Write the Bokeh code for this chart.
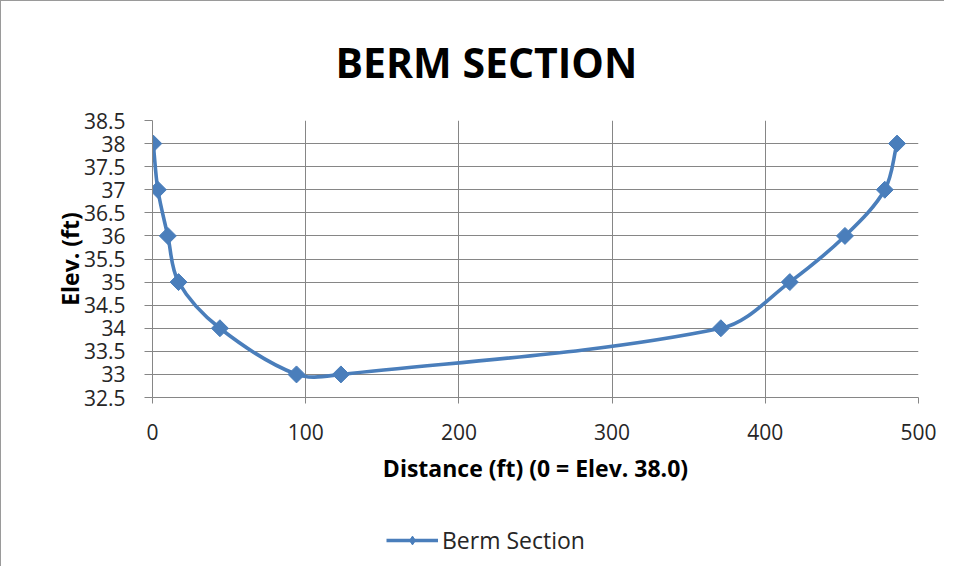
import numpy as np
from bokeh.plotting import figure
from bokeh.layouts import column
from bokeh.models import FixedTicker, Legend, LegendItem, Range1d
from bokeh.embed import file_html
from bokeh.resources import INLINE

# ---- data ----
distance_ft = [0.5, 3.5, 10, 17, 44, 94, 123, 371, 416, 452, 478, 486]
elev_ft = [38, 37, 36, 35, 34, 33, 33, 34, 35, 36, 37, 38]
series_name = "Berm Section"
title_text = "BERM SECTION"
x_label = "Distance (ft) (0 = Elev. 38.0)"
y_label = "Elev. (ft)"
x_ticks = [0, 100, 200, 300, 400, 500]
y_ticks = [32.5, 33, 33.5, 34, 34.5, 35, 35.5, 36, 36.5, 37, 37.5, 38, 38.5]
y_tick_labels = ["32.5", "33", "33.5", "34", "34.5", "35", "35.5", "36", "36.5",
                 "37", "37.5", "38", "38.5"]

BLUE = "#4A7EBB"
GRID = "#868686"
FONT = "Open Sans"
LW = 3.6

p = figure(frame_width=765, frame_height=276,
           x_range=(0, 500), y_range=(32.5, 38.5),
           output_backend="svg", toolbar_location=None,
           min_border_left=151, min_border_right=27,
           min_border_top=118, min_border_bottom=125,
           background_fill_color="white", border_fill_color="white")
p.outline_line_color = None
p.styles = {"border-left": "1px solid #9a9a9a", "border-top": "1px solid #9a9a9a"}

# title
p.title.text = title_text
p.title.align = "left"
p.title.offset = 183
p.title.text_font = FONT
p.title.text_font_style = "bold"
p.title.text_font_size = "41px"
p.title.text_color = "black"
p.title.standoff = 61

# axes
xa = p.xaxis[0]
ya = p.yaxis[0]
xa.ticker = FixedTicker(ticks=x_ticks)
ya.ticker = FixedTicker(ticks=y_ticks)
ya.major_label_overrides = {t: s for t, s in zip(y_ticks, y_tick_labels)}
for ax in (xa, ya):
    ax.axis_line_color = GRID
    ax.major_tick_line_color = GRID
    ax.minor_tick_line_color = None
    ax.major_tick_in = 0
    ax.major_label_text_font = FONT
    ax.major_label_text_font_size = "21px"
    ax.major_label_text_color = "#262626"
    ax.axis_label_text_font = FONT
    ax.axis_label_text_font_style = "bold"
    ax.axis_label_text_font_size = "23px"
    ax.axis_label_text_color = "black"
xa.major_tick_out = 6
ya.major_tick_out = 8
xa.major_label_standoff = 20
ya.major_label_standoff = 19
xa.axis_label = x_label
ya.axis_label = y_label
xa.axis_label_standoff = 9
ya.axis_label_standoff = -5

p.xgrid.ticker = FixedTicker(ticks=x_ticks)
p.ygrid.ticker = FixedTicker(ticks=y_ticks)
for g in (p.xgrid, p.ygrid):
    g.grid_line_color = GRID
    g.grid_line_width = 1

# smoothed line (bezier segments through the data points)
k = 46.0 / 1.53  # y-to-x aspect of the screen scales, to smooth in screen proportions
P = np.column_stack([np.array(distance_ft, float), np.array(elev_ft, float) * k])
n = len(P)
D = np.zeros_like(P)
for i in range(n):
    a = P[max(i - 1, 0)]
    b = P[min(i + 1, n - 1)]
    v = b - a
    D[i] = v / np.hypot(*v)
x0, y0, x1, y1, cx0, cy0, cx1, cy1 = ([] for _ in range(8))
for i in range(n - 1):
    L = np.hypot(*(P[i + 1] - P[i])) * 0.33
    c0 = P[i] + D[i] * L
    c1 = P[i + 1] - D[i + 1] * L
    x0.append(P[i][0]); y0.append(P[i][1] / k)
    x1.append(P[i + 1][0]); y1.append(P[i + 1][1] / k)
    cx0.append(c0[0]); cy0.append(c0[1] / k)
    cx1.append(c1[0]); cy1.append(c1[1] / k)

curve = p.bezier(x0=x0, y0=y0, x1=x1, y1=y1, cx0=cx0, cy0=cy0, cx1=cx1, cy1=cy1,
                 line_color=BLUE, line_width=LW)
marks = p.scatter(distance_ft, elev_ft, marker="square", size=12, angle=np.pi / 4,
                  fill_color=BLUE, line_color=BLUE)

# legend strip below the chart (a small figure holding only the legend;
# its series glyphs sit outside its range so only the legend shows)
p2 = figure(width=943, height=45, output_backend="svg", toolbar_location=None,
            x_axis_location=None, y_axis_location=None, min_border=0,
            x_range=Range1d(0, 500), y_range=Range1d(0, 1),
            background_fill_color="white", border_fill_color="white")
p2.outline_line_color = None
p2.grid.visible = False
p2.styles = {"border-left": "1px solid #9a9a9a"}
lg_line = p2.line(x=distance_ft, y=elev_ft, line_color=BLUE, line_width=LW)
lg_mark = p2.scatter(x=distance_ft, y=elev_ft, marker="diamond", size=19,
                     fill_color=BLUE, line_color=BLUE)
legend = Legend(items=[LegendItem(label=series_name, renderers=[lg_line, lg_mark])],
                location=(234, 10), orientation="horizontal",
                border_line_color=None, background_fill_alpha=0,
                label_text_font=FONT, label_text_font_size="23px",
                label_text_color="#262626",
                glyph_width=52, glyph_height=22, label_standoff=4,
                padding=4, margin=0)
p2.add_layout(legend, "center")

layout = column(p, p2, spacing=0)
open("out.html", "w").write(file_html(layout, INLINE))
